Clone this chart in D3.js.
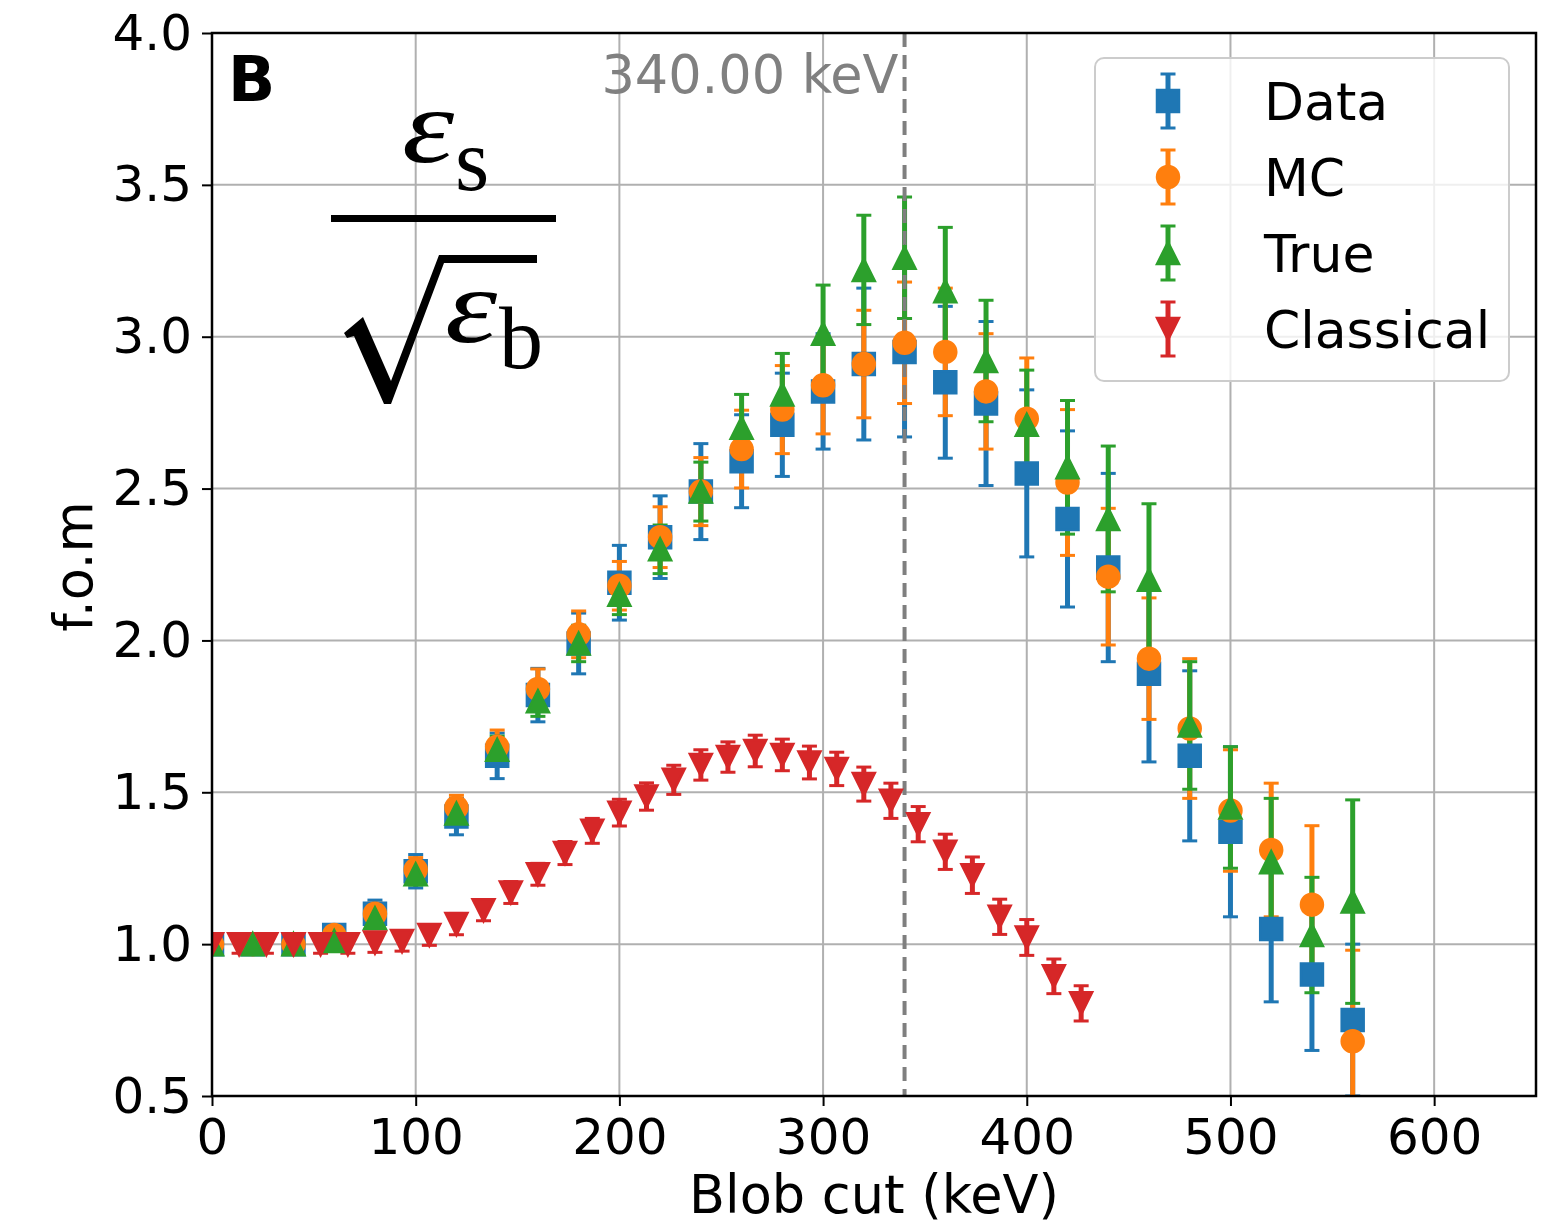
<!DOCTYPE html>
<html>
<head>
<meta charset="utf-8">
<script src="https://cdn.jsdelivr.net/npm/d3@7"></script>
<style>
  body { margin: 0; background: #fff; }
  text { font-family: "DejaVu Sans", sans-serif; }
  text.serif { font-family: "Liberation Serif", serif; }
</style>
</head>
<body>
<svg id="chart" width="1558" height="1228"></svg>
<script>
var width = 1558
var height = 1228

// blob cut values (keV)
var cuts = [0, 20, 40, 60, 80, 100, 120, 140, 160, 180, 200, 220, 240, 260, 280,
            300, 320, 340, 360, 380, 400, 420, 440, 460, 480, 500, 520, 540, 560]
var cutsClassical = [0, 13.3, 26.7, 40, 53.3, 66.7, 80, 93.3, 106.7, 120, 133.3, 146.7,
            160, 173.3, 186.7, 200, 213.3, 226.7, 240, 253.3, 266.7, 280, 293.3, 306.7,
            320, 333.3, 346.7, 360, 373.3, 386.7, 400, 413.3, 426.7]

var dataY = [1.00, 1.00, 1.00, 1.03, 1.10, 1.24, 1.42, 1.62, 1.82, 1.99, 2.19, 2.34, 2.49, 2.59, 2.71,
             2.82, 2.91, 2.95, 2.85, 2.78, 2.55, 2.40, 2.24, 1.89, 1.62, 1.37, 1.05, 0.90, 0.75]
var dataErr = [0.03, 0.03, 0.03, 0.03, 0.045, 0.055, 0.06, 0.075, 0.088, 0.10, 0.123, 0.136, 0.158, 0.153, 0.17,
             0.19, 0.25, 0.28, 0.25, 0.27, 0.275, 0.29, 0.31, 0.29, 0.28, 0.28, 0.24, 0.25, 0.25]

var mcY = [1.00, 1.00, 1.00, 1.03, 1.10, 1.245, 1.45, 1.65, 1.84, 2.02, 2.18, 2.34, 2.49, 2.63, 2.76,
           2.84, 2.91, 2.98, 2.95, 2.82, 2.73, 2.52, 2.21, 1.94, 1.71, 1.44, 1.31, 1.13, 0.68]
var mcErr = [0.02, 0.02, 0.02, 0.02, 0.035, 0.04, 0.04, 0.055, 0.066, 0.077, 0.08, 0.10, 0.112, 0.128, 0.145,
           0.16, 0.177, 0.20, 0.21, 0.19, 0.20, 0.24, 0.225, 0.20, 0.23, 0.20, 0.22, 0.26, 0.30]

var trueY = [1.00, 1.00, 1.00, 1.01, 1.085, 1.23, 1.43, 1.64, 1.80, 1.99, 2.15, 2.30, 2.49, 2.70, 2.81,
             3.01, 3.22, 3.26, 3.15, 2.92, 2.71, 2.57, 2.40, 2.20, 1.72, 1.45, 1.27, 1.03, 1.14]
var trueErr = [0.02, 0.02, 0.02, 0.02, 0.03, 0.035, 0.04, 0.045, 0.05, 0.06, 0.065, 0.08, 0.097, 0.11, 0.135,
             0.16, 0.18, 0.20, 0.21, 0.20, 0.18, 0.22, 0.24, 0.25, 0.21, 0.20, 0.21, 0.19, 0.335]

var classicalY = [1.00, 1.00, 1.00, 1.00, 1.00, 1.00, 1.005, 1.01, 1.03, 1.066, 1.112, 1.17, 1.23, 1.30, 1.373,
             1.433, 1.486, 1.541, 1.59, 1.616, 1.636, 1.623, 1.598, 1.577, 1.527, 1.472, 1.395, 1.304,
             1.227, 1.09, 1.022, 0.894, 0.805]
var classicalErr = [0.03, 0.03, 0.03, 0.03, 0.03, 0.03, 0.032, 0.033, 0.034, 0.035, 0.035, 0.036, 0.036, 0.038,
             0.041, 0.044, 0.045, 0.048, 0.05, 0.05, 0.052, 0.052, 0.054, 0.055, 0.056, 0.058, 0.058, 0.058,
             0.06, 0.058, 0.059, 0.057, 0.058]

var seriesNames = ["Data", "MC", "True", "Classical"]
var seriesColors = ["#1f77b4", "#ff7f0e", "#2ca02c", "#d62728"]
var seriesMarkers = ["square", "circle", "triangleUp", "triangleDown"]

var xTicks = [0, 100, 200, 300, 400, 500, 600]
var yTicks = [0.5, 1.0, 1.5, 2.0, 2.5, 3.0, 3.5, 4.0]
var cutLine = 340

var series = [
    {name: seriesNames[0], color: seriesColors[0], marker: seriesMarkers[0], x: cuts, y: dataY, err: dataErr},
    {name: seriesNames[1], color: seriesColors[1], marker: seriesMarkers[1], x: cuts, y: mcY, err: mcErr},
    {name: seriesNames[2], color: seriesColors[2], marker: seriesMarkers[2], x: cuts, y: trueY, err: trueErr},
    {name: seriesNames[3], color: seriesColors[3], marker: seriesMarkers[3], x: cutsClassical, y: classicalY, err: classicalErr}
]
series.forEach(function(s) {
    s.points = s.x.map(function(v, i) { return {x: v, y: s.y[i], err: s.err[i]} })
})

var plotLeft = 212, plotRight = 1536, plotTop = 33, plotBottom = 1096

var x = d3.scaleLinear().domain([0, 650]).range([plotLeft, plotRight])
var y = d3.scaleLinear().domain([0.5, 4.0]).range([plotBottom, plotTop])

var svg = d3.select("#chart")

svg.append("defs").append("clipPath").attr("id", "plotclip")
    .append("rect")
    .attr("x", plotLeft).attr("y", plotTop)
    .attr("width", plotRight - plotLeft).attr("height", plotBottom - plotTop)

// grid
var grid = svg.append("g").attr("stroke", "#b0b0b0").attr("stroke-width", 2)
grid.selectAll(".gx").data(xTicks).enter().append("line")
    .attr("x1", d => x(d)).attr("x2", d => x(d))
    .attr("y1", plotTop).attr("y2", plotBottom)
grid.selectAll(".gy").data(yTicks).enter().append("line")
    .attr("x1", plotLeft).attr("x2", plotRight)
    .attr("y1", d => y(d)).attr("y2", d => y(d))

var plot = svg.append("g").attr("clip-path", "url(#plotclip)")

function markerPath(type, s) {
    var h = s / 2
    if (type == "square") return "M" + (-h) + "," + (-h) + "h" + s + "v" + s + "h" + (-s) + "Z"
    if (type == "circle") return d3.symbol().type(d3.symbolCircle).size(Math.PI * h * h)()
    if (type == "triangleUp") return "M0," + (-h) + "L" + h + "," + h + "L" + (-h) + "," + h + "Z"
    return "M0," + h + "L" + h + "," + (-h) + "L" + (-h) + "," + (-h) + "Z"
}

var capHalf = 7.5
var barWidth = 5

// error bars first (all series), markers above them
series.forEach(function(s) {
    var g = plot.append("g").attr("stroke", s.color)
    g.selectAll(".eb").data(s.points).enter().append("line")
        .attr("x1", d => x(d.x)).attr("x2", d => x(d.x))
        .attr("y1", d => y(d.y - d.err)).attr("y2", d => y(d.y + d.err))
        .attr("stroke-width", barWidth)
    g.selectAll(".capTop").data(s.points).enter().append("line")
        .attr("x1", d => x(d.x) - capHalf).attr("x2", d => x(d.x) + capHalf)
        .attr("y1", d => y(d.y + d.err)).attr("y2", d => y(d.y + d.err))
        .attr("stroke-width", 3)
    g.selectAll(".capBot").data(s.points).enter().append("line")
        .attr("x1", d => x(d.x) - capHalf).attr("x2", d => x(d.x) + capHalf)
        .attr("y1", d => y(d.y - d.err)).attr("y2", d => y(d.y - d.err))
        .attr("stroke-width", 3)
})

// chosen cut
plot.append("line")
    .attr("x1", x(cutLine)).attr("x2", x(cutLine))
    .attr("y1", plotTop).attr("y2", plotBottom)
    .attr("stroke", "#7f7f7f").attr("stroke-width", 4)
    .attr("stroke-dasharray", "14,8")

series.forEach(function(s) {
    plot.append("g").selectAll("path").data(s.points).enter().append("path")
        .attr("d", markerPath(s.marker, 22))
        .attr("transform", d => "translate(" + x(d.x) + "," + y(d.y) + ")")
        .attr("fill", s.color)
        .attr("stroke", s.color)
        .attr("stroke-width", 2.5)
})

// axes
var xAxis = svg.append("g")
    .attr("transform", "translate(0," + plotBottom + ")")
    .call(d3.axisBottom(x).tickValues(xTicks).tickSize(10).tickPadding(12).tickFormat(d3.format("d")))
var yAxis = svg.append("g")
    .attr("transform", "translate(" + plotLeft + ",0)")
    .call(d3.axisLeft(y).tickValues(yTicks).tickSize(10).tickPadding(10).tickFormat(d3.format(".1f")))
;[xAxis, yAxis].forEach(function(a) {
    a.select(".domain").remove()
    a.selectAll(".tick line").attr("stroke", "#000").attr("stroke-width", 2)
    a.selectAll(".tick text")
        .attr("fill", "#000")
        .style("font-family", "DejaVu Sans")
        .style("font-size", "50px")
})

svg.append("rect")
    .attr("x", plotLeft).attr("y", plotTop)
    .attr("width", plotRight - plotLeft).attr("height", plotBottom - plotTop)
    .attr("fill", "none").attr("stroke", "#000").attr("stroke-width", 2.5)

svg.append("text")
    .attr("x", (plotLeft + plotRight) / 2).attr("y", 1213)
    .attr("text-anchor", "middle")
    .style("font-size", "52.5px")
    .text("Blob cut (keV)")

svg.append("text")
    .attr("transform", "translate(92," + ((plotTop + plotBottom) / 2 + 2) + ") rotate(-90)")
    .attr("text-anchor", "middle")
    .style("font-size", "52.5px")
    .text("f.o.m")

svg.append("text")
    .attr("x", 228).attr("y", 101)
    .style("font-size", "62px").style("font-weight", "bold")
    .text("B")

svg.append("text")
    .attr("x", x(cutLine) - 6).attr("y", 93)
    .attr("text-anchor", "end")
    .attr("fill", "#808080")
    .style("font-size", "52.5px")
    .text(cutLine.toFixed(2) + " keV")

// figure of merit formula
var f = svg.append("g")
f.append("text").attr("class", "serif").attr("transform", "translate(402,162) scale(1.25,1)")
    .style("font-size", "106px").style("font-style", "italic")
    .text("ε")
f.append("text").attr("class", "serif").attr("x", 455).attr("y", 190)
    .style("font-size", "88px")
    .text("s")
f.append("rect").attr("x", 331).attr("y", 215).attr("width", 225).attr("height", 7).attr("fill", "#000")
f.append("path")
    .attr("d", "M344,333 L363,317 L391,381 L439,255 L537,255 L537,263 L444,263 L391,404 L384,404 L354,336 L347,338 Z")
    .attr("fill", "#000")
f.append("text").attr("class", "serif").attr("transform", "translate(445,342) scale(1.25,1)")
    .style("font-size", "106px").style("font-style", "italic")
    .text("ε")
f.append("text").attr("class", "serif").attr("x", 499).attr("y", 368)
    .style("font-size", "88px")
    .text("b")

// legend
var legend = svg.append("g")
legend.append("rect")
    .attr("x", 1095).attr("y", 58).attr("width", 414).attr("height", 323)
    .attr("rx", 9).attr("ry", 9)
    .attr("fill", "#fff").attr("fill-opacity", 0.8)
    .attr("stroke", "#cccccc").attr("stroke-width", 2)

var items = legend.selectAll(".item").data(series).enter().append("g")
    .attr("transform", (d, i) => "translate(1168," + (101 + i * 76) + ")")
items.append("line").attr("y1", -27).attr("y2", 27)
    .attr("stroke", d => d.color).attr("stroke-width", barWidth)
items.append("line").attr("x1", -capHalf).attr("x2", capHalf).attr("y1", -27).attr("y2", -27)
    .attr("stroke", d => d.color).attr("stroke-width", 3)
items.append("line").attr("x1", -capHalf).attr("x2", capHalf).attr("y1", 27).attr("y2", 27)
    .attr("stroke", d => d.color).attr("stroke-width", 3)
items.append("path")
    .attr("d", d => markerPath(d.marker, 22))
    .attr("fill", d => d.color).attr("stroke", d => d.color).attr("stroke-width", 2.5)
items.append("text")
    .attr("x", 96).attr("y", 18.5)
    .style("font-size", "52px")
    .text(d => d.name)
</script>
</body>
</html>
